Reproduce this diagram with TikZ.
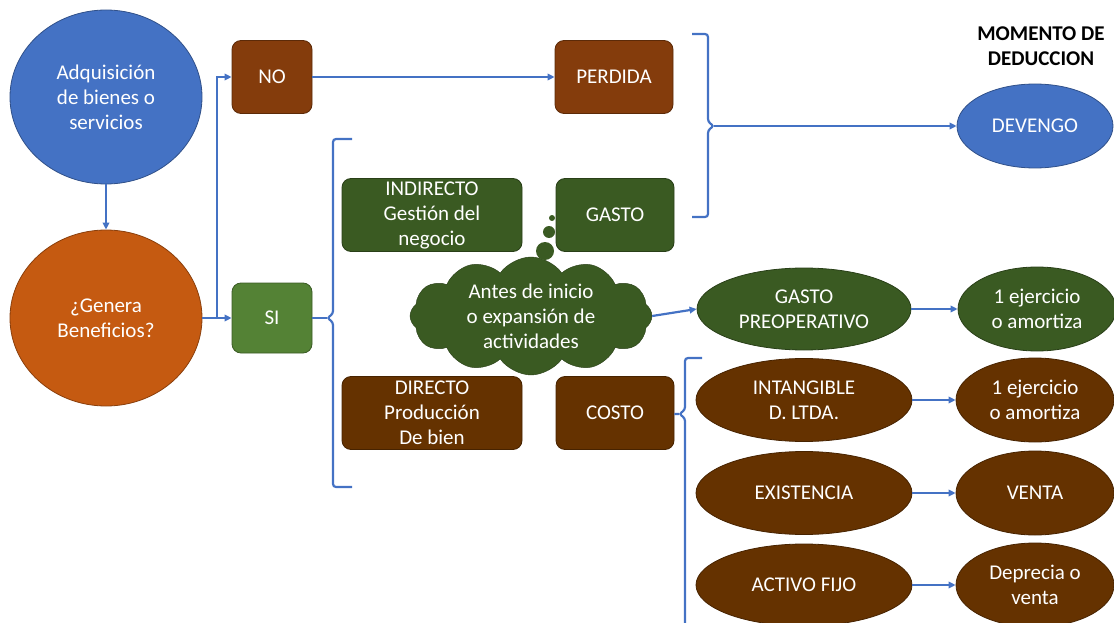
\documentclass[tikz,border=0pt]{standalone}
\usepackage{fontspec}
\setmainfont{Carlito}
\usetikzlibrary{shapes.geometric, shapes.symbols, arrows.meta, positioning}

\definecolor{azul}{HTML}{4472C4}
\definecolor{naranja}{HTML}{C55A11}
\definecolor{verdecl}{HTML}{548235}
\definecolor{verdeosc}{HTML}{3A5A22}
\definecolor{cafe}{HTML}{843C0C}
\definecolor{cafeosc}{HTML}{653200}

\newcommand\letra{\fontsize{21}{25}\selectfont}

\begin{document}
\begin{tikzpicture}[x=1pt,y=-1pt,
  caja/.style={draw=#1!70!black, fill=#1, rounded corners=9pt, minimum width=118pt,
    minimum height=73pt, inner sep=0pt, text=white, align=center, font=\letra, line width=0.8pt},
  ovalo/.style={ellipse, draw=#1!70!black, fill=#1, inner sep=0pt, text=white,
    align=center, font=\letra, line width=0.8pt},
  flecha/.style={draw=azul, line width=2.2pt, -{Triangle[length=7pt,width=6.5pt]}},
  llave/.style={draw=azul, line width=2.2pt, rounded corners=3pt}]

\useasboundingbox (0,0) rectangle (1114,623);

% --- Inicio: adquisicion y pregunta ---
\node[ovalo=azul, minimum width=192pt, minimum height=174pt] (adq) at (106,97)
  {Adquisición\\de bienes o\\servicios};
\node[ovalo=naranja, minimum width=192pt, minimum height=176pt] (gen) at (106,318)
  {¿Genera\\Beneficios?};
\draw[flecha] (adq) -- (gen);

% Respuestas NO / SI
\node[caja=cafe, minimum width=80pt] (no) at (272,77) {NO};
\node[caja=verdecl, minimum width=80pt, minimum height=70pt] (si) at (272,318) {SI};
\coordinate (split) at (217,318);
\draw[flecha] (gen) -- (si);
\draw[flecha] (split) |- (no);

% --- Rama NO ---
\node[caja=cafe] (perd) at (614,77) {PERDIDA};
\draw[flecha] (no) -- (perd);

% --- Rama SI: indirecto / directo ---
\node[caja=verdeosc, minimum width=180pt] (indir) at (432,215) {INDIRECTO\\Gestión del\\negocio};
\node[caja=verdeosc] (gasto) at (615,215) {GASTO};
\node[caja=cafeosc, minimum width=180pt] (dir) at (432,413) {DIRECTO\\Producción\\De bien};
\node[caja=cafeosc] (costo) at (615,413) {COSTO};

% llave del SI
\coordinate (brSI) at (327,318);
\draw[llave] (352,139) -- (333,139) -- (333,314) -- (brSI) -- (333,322) -- (333,487) -- (352,487);
\draw[llave] (si) -- (brSI);

% nube con burbujas
\node[cloud, cloud puffs=12, cloud puff arc=110, aspect=2.4, draw=verdeosc!70!black,
  fill=verdeosc, minimum width=242pt, minimum height=105pt, inner sep=0pt,
  text=white, align=center, font=\letra] (antes) at (531,316)
  {Antes de inicio\\o expansión de\\actividades};
\fill[verdeosc] (545,251) circle (9pt);
\fill[verdeosc] (549,232) circle (6pt);
\fill[verdeosc] (552,218) circle (3pt);

% --- Momento de deduccion ---
\node[font=\bfseries\fontsize{21}{25}\selectfont, align=center] (momento) at (1041,46)
  {MOMENTO DE\\DEDUCCION};
\node[ovalo=azul, minimum width=156pt, minimum height=84pt] (dev) at (1035,126) {DEVENGO};

% llave de PERDIDA y GASTO
\coordinate (brPG) at (714,126);
\draw[llave] (692,34) -- (708,34) -- (708,122) -- (brPG) -- (708,130) -- (708,217) -- (692,217);
\draw[flecha] (brPG) -- (dev);

% gasto preoperativo
\node[ovalo=verdeosc, minimum width=214pt, minimum height=82pt] (gpre) at (804,309)
  {GASTO\\PREOPERATIVO};
\node[ovalo=verdeosc, minimum width=158pt, minimum height=84pt] (ej1) at (1037,309)
  {1 ejercicio\\o amortiza};
\draw[flecha] (antes.east) -- (gpre.west);
\draw[flecha] (gpre) -- (ej1);

% llave del COSTO
\coordinate (brCO) at (679,414);
\draw[llave] (702,358) -- (685,358) -- (685,410) -- (brCO) -- (685,418) -- (685,630);
\draw[llave] (costo) -- (brCO);

% tipos de costo
\node[ovalo=cafeosc, minimum width=216pt, minimum height=83pt] (intang) at (804,400)
  {INTANGIBLE\\D. LTDA.};
\node[ovalo=cafeosc, minimum width=158pt, minimum height=84pt] (ej2) at (1035,400)
  {1 ejercicio\\o amortiza};
\node[ovalo=cafeosc, minimum width=216pt, minimum height=83pt] (exist) at (804,493) {EXISTENCIA};
\node[ovalo=cafeosc, minimum width=158pt, minimum height=84pt] (venta) at (1035,493) {VENTA};
\node[ovalo=cafeosc, minimum width=216pt, minimum height=82pt] (actf) at (804,585) {ACTIVO FIJO};
\node[ovalo=cafeosc, minimum width=158pt, minimum height=84pt] (depr) at (1035,585)
  {Deprecia o\\venta};
\draw[flecha] (intang) -- (ej2);
\draw[flecha] (exist) -- (venta);
\draw[flecha] (actf) -- (depr);

\end{tikzpicture}
\end{document}
